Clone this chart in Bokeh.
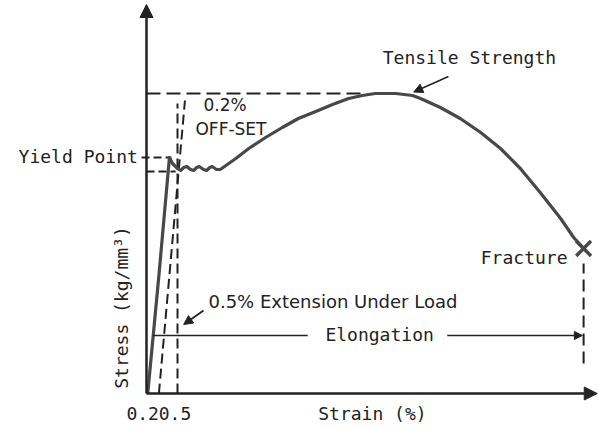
from bokeh.plotting import figure
from bokeh.models import Range1d, Arrow, NormalHead, Label
from bokeh.embed import file_html
from bokeh.resources import INLINE

# ---- data (strain in %, stress in kg/mm^2, schematic) ----
curve_strain = [0.02, 0.20, 0.37, 0.42, 0.50, 0.55, 0.60, 0.65, 0.71, 0.76, 0.81, 0.85,
                0.92, 0.97, 1.02, 1.06, 1.13, 1.19, 1.44, 1.65, 1.92, 2.19, 2.45, 2.73,
                3.00, 3.26, 3.48, 3.69, 4.02, 4.29, 4.42, 4.74, 5.06, 5.39, 5.71, 6.03,
                6.35, 6.68, 6.89, 7.05]
curve_stress = [0.0, 11.8, 23.6, 23.0, 22.5, 22.3, 22.6, 22.7, 22.4, 22.3, 22.6, 22.7,
                22.4, 22.3, 22.6, 22.7, 22.4, 22.4, 23.5, 24.5, 25.6, 26.6, 27.5, 28.2,
                28.9, 29.5, 29.8, 30.0, 30.0, 29.8, 29.5, 28.6, 27.5, 26.1, 24.5, 22.5,
                20.1, 17.5, 15.6, 14.5]

tensile_strength = 30.0
tensile_strain = 3.55
yield_upper = 23.6
yield_lower = 22.2
offset_start = [0.20, 0.0]
offset_end = [0.62, 29.3]
extension_strain = 0.5
extension_top = 29.0
fracture_strain = 7.05
fracture_stress = 14.5
elongation_level = 5.8
elongation_start = 0.11
tick_values = [0.2, 0.5]
tick_labels = ["0.2", "0.5"]

MONO = "DejaVu Sans Mono"
SANS = "DejaVu Sans"
INK = "#222222"
CURVE = "#484848"

p = figure(width=599, height=428, output_backend="svg", toolbar_location=None,
           x_axis_type=None, y_axis_type=None, min_border=0,
           x_range=Range1d(-2.3548, 7.3065), y_range=Range1d(-3.5, 39.3))
p.grid.visible = False
p.outline_line_color = None
p.background_fill_color = "white"

# axes as arrows
p.add_layout(Arrow(end=NormalHead(size=13, fill_color=INK, line_color=INK),
                   x_start=0, y_start=0, x_end=0, y_end=38.9,
                   line_color=INK, line_width=2.5))
p.add_layout(Arrow(end=NormalHead(size=13, fill_color=INK, line_color=INK),
                   x_start=0, y_start=0, x_end=7.27, y_end=0,
                   line_color=INK, line_width=2.5))

# dashed guide lines
p.line([0, tensile_strain], [tensile_strength, tensile_strength],
       line_color=INK, line_width=2, line_dash="14 6")
p.line([-0.08, 0.40], [yield_upper, yield_upper], line_color=INK, line_width=2, line_dash="8 4")
p.line([0, 0.47], [yield_lower, yield_lower], line_color=INK, line_width=2, line_dash="8 4")
p.line([offset_start[0], offset_end[0]], [offset_start[1], offset_end[1]],
       line_color=INK, line_width=2, line_dash="10 5")
p.line([extension_strain, extension_strain], [0, extension_top],
       line_color=INK, line_width=2, line_dash="10 5")
p.line([fracture_strain, fracture_strain], [3.0, 13.0],
       line_color=INK, line_width=2, line_dash="12 6")

# main curve
p.line(curve_strain, curve_stress, line_color=CURVE, line_width=3.2, line_join="round")
p.scatter([fracture_strain], [fracture_stress], marker="x", size=21,
          line_color=CURVE, line_width=3.5)

# elongation arrow
p.line([elongation_start, 2.6], [elongation_level, elongation_level],
       line_color=INK, line_width=1.5)
p.add_layout(Arrow(end=NormalHead(size=8, fill_color=INK, line_color=INK),
                   x_start=4.85, y_start=elongation_level,
                   x_end=7.03, y_end=elongation_level,
                   line_color=INK, line_width=1.5))

# pointer arrows
p.add_layout(Arrow(end=NormalHead(size=9, fill_color=INK, line_color=INK),
                   x_start=4.87, y_start=31.7, x_end=4.31, y_end=30.15,
                   line_color=INK, line_width=1.5))
p.add_layout(Arrow(end=NormalHead(size=9, fill_color=INK, line_color=INK),
                   x_start=0.92, y_start=8.3, x_end=0.60, y_end=6.9,
                   line_color=INK, line_width=1.8))

def lab(x, y, text, font=MONO, size="18px", align="left", angle=0.0):
    p.add_layout(Label(x=x, y=y, text=text, text_font=font, text_font_size=size,
                       text_align=align, text_baseline="middle", text_color=INK,
                       angle=angle))

lab(-0.14, 23.7, "Yield Point", align="right")
lab(0.92, 28.9, "0.2%", font=SANS, size="17px")
lab(0.79, 26.5, "OFF-SET", font=SANS, size="17px")
lab(3.81, 33.6, "Tensile Strength")
lab(6.79, 13.6, "Fracture", align="right")
lab(1.0, 9.2, "0.5% Extension Under Load", font=SANS, size="18px")
lab(3.76, 5.9, "Elongation", align="center")
lab(2.77, -1.95, "Strain (%)")
lab(-0.40, 8.6, "Stress (kg/mm³)", align="center", angle=1.5708)

# tick labels 0.2 / 0.5 (written next to each other as in the original)
lab(tick_values[1] - 0.04, -1.95, tick_labels[1], align="center")
lab(tick_values[1] - 0.30, -1.95, tick_labels[0], align="right")

open("out.html", "w").write(file_html(p, INLINE))
